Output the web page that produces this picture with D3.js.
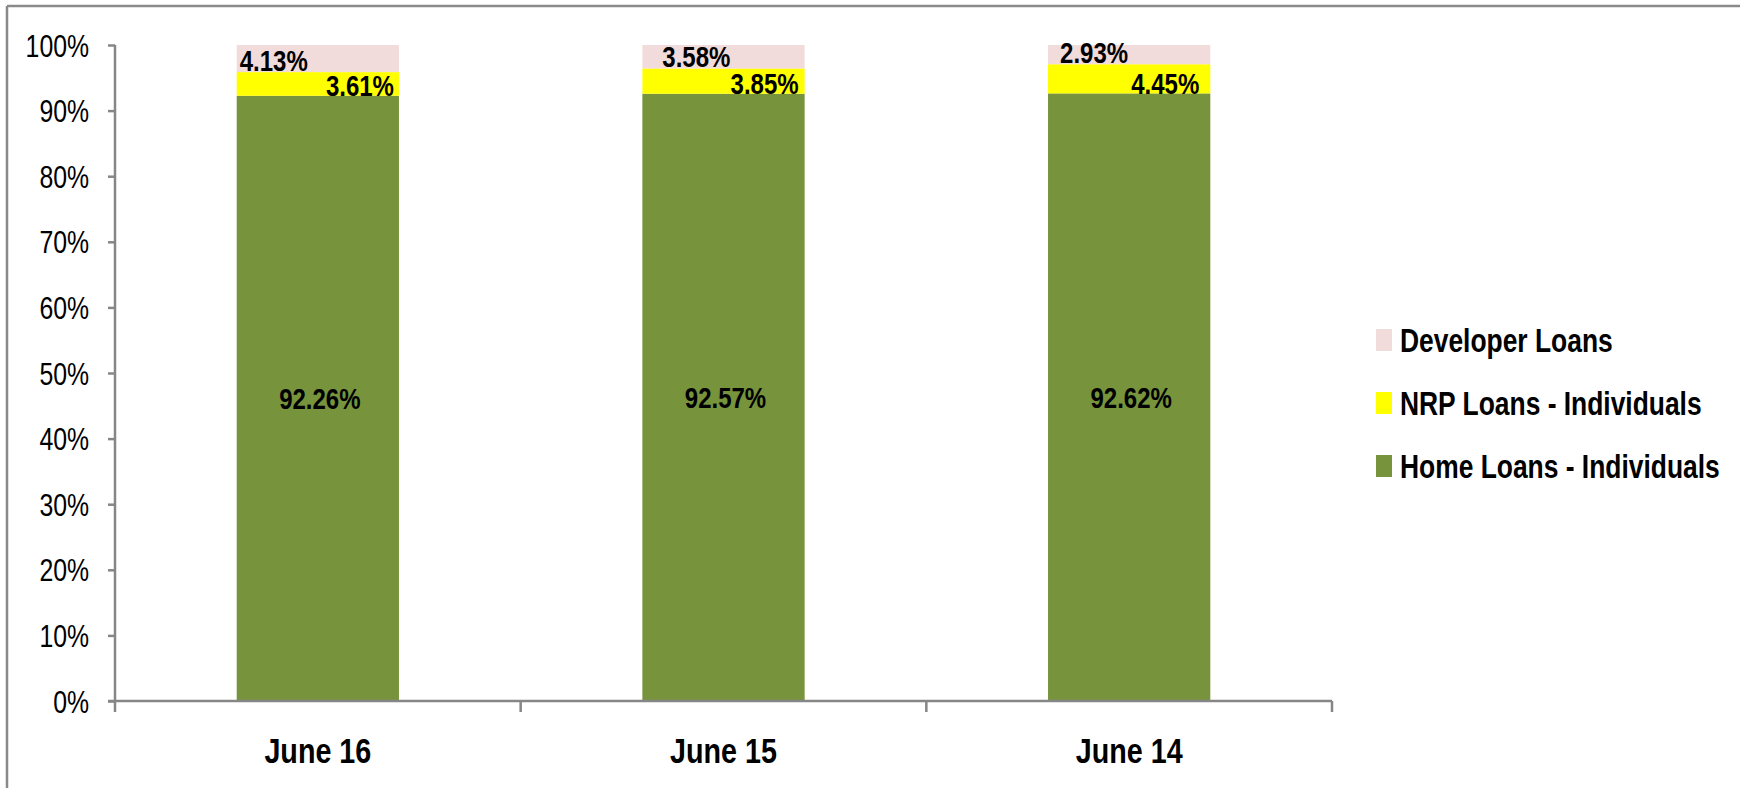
<!DOCTYPE html>
<html>
<head>
<meta charset="utf-8">
<script src="https://cdn.jsdelivr.net/npm/d3@7"></script>
<style>
  html, body { margin: 0; padding: 0; background: #ffffff; }
  svg { display: block; font-family: "Liberation Sans", Arial, Helvetica, sans-serif; }
</style>
</head>
<body>
<svg id="chart" width="1740" height="788"></svg>
<script>
// Loan portfolio mix by period (share of total, %)
const categories = ["June 16", "June 15", "June 14"];
const homeLoans = [92.26, 92.57, 92.62];
const nrpLoans = [3.61, 3.85, 4.45];
const developerLoans = [4.13, 3.58, 2.93];
const seriesNames = ["Developer Loans", "NRP Loans - Individuals", "Home Loans - Individuals"];
const yTicks = [0, 10, 20, 30, 40, 50, 60, 70, 80, 90, 100];

// Layout
const W = 1740, H = 788;
const plot = { left: 115, right: 1332, top: 45, bottom: 701 };
const squish = 0.8;            // narrow type
const axisColor = "#868686";
const colors = {
  "Home Loans - Individuals": "#77933C",
  "NRP Loans - Individuals": "#FFFF00",
  "Developer Loans": "#F2DCDB"
};
// Hand-placed label nudges per bar (px): developer label from bar left, NRP label from bar right
const devLabelDx = [3, 20, 12];
const nrpLabelDx = [-5, -6, -11];

const svg = d3.select("#chart");

// Frame lines (top and left)
svg.append("line").attr("x1", 7).attr("x2", W).attr("y1", 6).attr("y2", 6)
  .attr("stroke", "#8a8a8a").attr("stroke-width", 2.5);
svg.append("line").attr("x1", 7).attr("x2", 7).attr("y1", 6).attr("y2", H)
  .attr("stroke", "#8a8a8a").attr("stroke-width", 2.5);

const x = d3.scaleBand().domain(categories).range([plot.left, plot.right]).padding(0);
const y = d3.scaleLinear().domain([0, 100]).range([plot.bottom, plot.top]);
const barW = x.bandwidth() * 0.4;

// Stacked data
const rows = categories.map((c, i) => ({
  cat: c,
  "Home Loans - Individuals": homeLoans[i],
  "NRP Loans - Individuals": nrpLoans[i],
  "Developer Loans": developerLoans[i]
}));
const stackOrder = ["Home Loans - Individuals", "NRP Loans - Individuals", "Developer Loans"];
const stacked = d3.stack().keys(stackOrder)(rows);

// Helper for squished text
function label(parent, tx, ty, str, opts) {
  const sx = opts.sx || squish;
  const g = parent.append("g").attr("transform", `translate(${tx},${ty}) scale(${sx},1)`);
  g.append("text")
    .attr("x", 0).attr("y", 0)
    .attr("text-anchor", opts.anchor || "start")
    .attr("font-size", opts.size)
    .attr("font-weight", opts.weight || "normal")
    .attr("fill", "#000")
    .text(str);
  return g;
}

// Bars
const barsG = svg.append("g");
stacked.forEach(layer => {
  barsG.selectAll(null).data(layer).enter().append("rect")
    .attr("x", d => x(d.data.cat) + (x.bandwidth() - barW) / 2)
    .attr("width", barW)
    .attr("y", d => y(d[1]))
    .attr("height", d => y(d[0]) - y(d[1]))
    .attr("fill", colors[layer.key]);
});

// Y axis
const yAxis = d3.axisLeft(y).tickValues(yTicks).tickFormat(d => d + "%").tickSize(7).tickPadding(0);
const yG = svg.append("g").attr("transform", `translate(${plot.left},0)`).call(yAxis);
yG.select(".domain").attr("stroke", axisColor).attr("stroke-width", 2.5)
  .attr("d", `M0,${plot.top}V${plot.bottom}`);
yG.selectAll(".tick line").attr("stroke", axisColor).attr("stroke-width", 2.5);
yG.selectAll(".tick text")
  .attr("x", -26 / squish).attr("dy", "0.36em")
  .attr("transform", `scale(${squish},1)`)
  .attr("font-size", 31).attr("fill", "#000")
  .attr("font-family", "Liberation Sans, Arial, sans-serif");

// X axis (ticks at category boundaries)
const xG = svg.append("g");
xG.append("line").attr("x1", plot.left - 7).attr("x2", plot.right)
  .attr("y1", plot.bottom).attr("y2", plot.bottom)
  .attr("stroke", axisColor).attr("stroke-width", 2.5);
const boundaries = categories.map(c => x(c)).concat([x(categories[categories.length - 1]) + x.bandwidth()]);
xG.selectAll(null).data(boundaries).enter().append("line")
  .attr("x1", d => d).attr("x2", d => d)
  .attr("y1", plot.bottom).attr("y2", plot.bottom + 11)
  .attr("stroke", axisColor).attr("stroke-width", 2.5);
categories.forEach(c => {
  label(svg, x(c) + x.bandwidth() / 2, 763, c, { anchor: "middle", size: 35, weight: "bold", sx: 0.82 });
});

// Value labels
rows.forEach((r, i) => {
  const cx = x(r.cat) + x.bandwidth() / 2;
  const left = cx - barW / 2, right = cx + barW / 2;
  const home = r["Home Loans - Individuals"];
  const nrp = r["NRP Loans - Individuals"];
  const dev = r["Developer Loans"];
  // Home loans: centred in segment
  label(svg, cx + 2, (y(0) + y(home)) / 2 + 11, home.toFixed(2) + "%", { anchor: "middle", size: 30, weight: "bold" });
  // NRP: right side, near bottom of segment
  label(svg, right + nrpLabelDx[i], y(home) + 0.5, nrp.toFixed(2) + "%", { anchor: "end", size: 30, weight: "bold" });
  // Developer: left side, near bottom of segment
  label(svg, left + devLabelDx[i], y(home + nrp) - 1.5, dev.toFixed(2) + "%", { anchor: "start", size: 30, weight: "bold" });
});

// Legend
const legendRows = seriesNames.map((n, i) => ({ name: n, y: 341 + i * 63 }));
legendRows.forEach(d => {
  svg.append("rect").attr("x", 1376).attr("y", d.y - 12).attr("width", 16).attr("height", 22)
    .attr("fill", colors[d.name]);
  label(svg, 1400, d.y + 11, d.name, { anchor: "start", size: 33, weight: "bold" });
});
</script>
</body>
</html>
